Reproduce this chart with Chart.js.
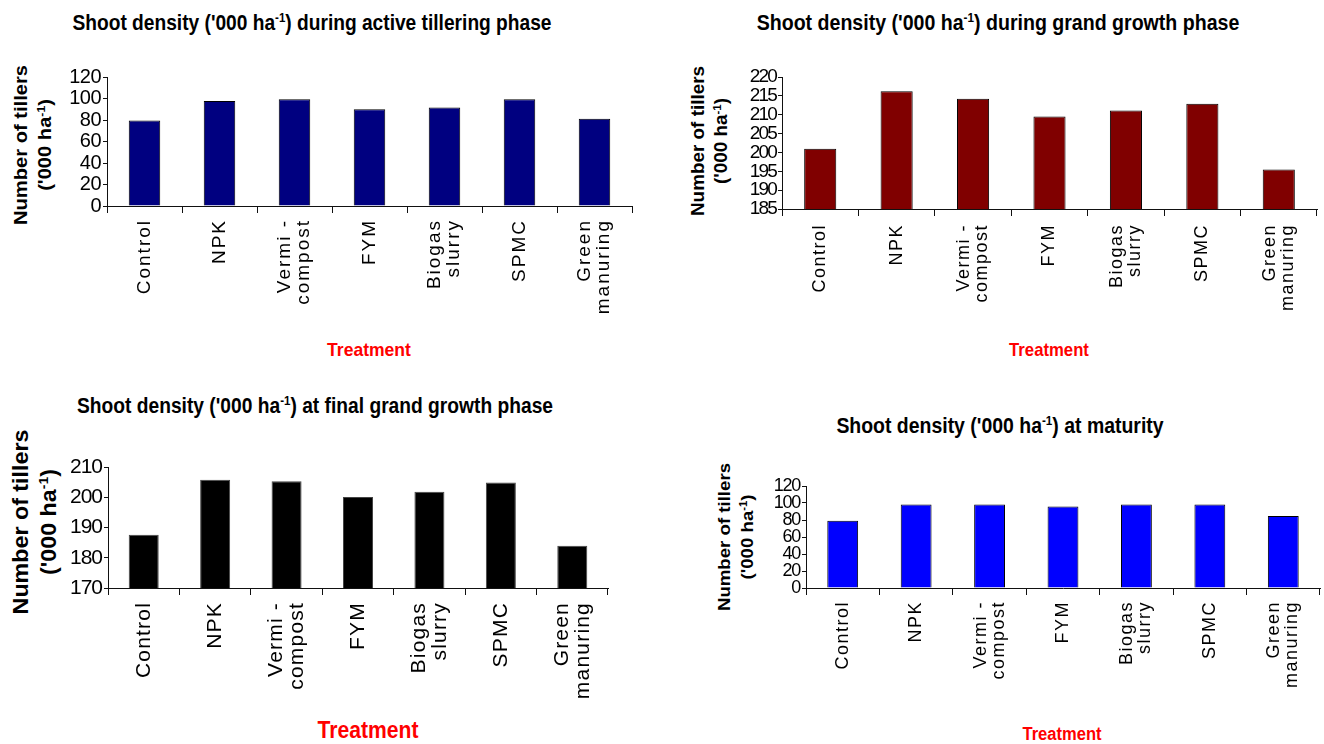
<!DOCTYPE html>
<html>
<head>
<meta charset="utf-8">
<script src="https://cdn.jsdelivr.net/npm/chart.js@4.4.1/dist/chart.umd.min.js"></script>
<style>
  html, body { margin: 0; padding: 0; background: #fff; }
  body { width: 1324px; height: 744px; position: relative; overflow: hidden;
         font-family: 'Liberation Sans', Arial, sans-serif; color: #000; }
  canvas { position: absolute; }
  .t { position: absolute; white-space: nowrap; line-height: 1; font-weight: bold;
       transform: translate(-50%, -50%); }
  .yt { text-align: center; }
  .tr { color: #ff0000; }
  sup { font-size: 0.6em; vertical-align: 0.6em; line-height: 0; }
</style>
</head>
<body>

<!-- chart titles -->
<div class="t fitw" style="left:312px;top:23px;font-size:22px" data-w="479">Shoot density ('000 ha<sup>-1</sup>) during active tillering phase</div>
<div class="t fitw" style="left:998px;top:23px;font-size:22px" data-w="483">Shoot density ('000 ha<sup>-1</sup>) during grand growth phase</div>
<div class="t fitw" style="left:315px;top:406px;font-size:22px" data-w="476">Shoot density ('000 ha<sup>-1</sup>) at final grand growth phase</div>
<div class="t fitw" style="left:1000px;top:426px;font-size:22px" data-w="327">Shoot density ('000 ha<sup>-1</sup>) at maturity</div>

<!-- y-axis titles -->
<div class="t yt fitlen" style="left:33px;top:145px;font-size:18px;line-height:24px" data-len="160"><div>Number of tillers</div><div>('000 ha<sup>-1</sup>)</div></div>
<div class="t yt fitlen" style="left:710px;top:141px;font-size:18px;line-height:23px" data-len="150"><div>Number of tillers</div><div>('000 ha<sup>-1</sup>)</div></div>
<div class="t yt fitlen" style="left:35px;top:522px;font-size:22px;line-height:28px" data-len="185"><div>Number of tillers</div><div>('000 ha<sup>-1</sup>)</div></div>
<div class="t yt fitlen" style="left:736px;top:537px;font-size:17px;line-height:23px" data-len="148"><div>Number of tillers</div><div>('000 ha<sup>-1</sup>)</div></div>

<!-- x-axis titles -->
<div class="t tr fitw" style="left:369px;top:349px;font-size:19px" data-w="84">Treatment</div>
<div class="t tr fitw" style="left:1049px;top:349px;font-size:19px" data-w="80">Treatment</div>
<div class="t tr fitw" style="left:368px;top:730px;font-size:23px" data-w="101">Treatment</div>
<div class="t tr fitw" style="left:1062px;top:734px;font-size:18px" data-w="79">Treatment</div>

<canvas id="tillering"></canvas>
<canvas id="grandGrowth"></canvas>
<canvas id="finalGrowth"></canvas>
<canvas id="maturity"></canvas>

<script>
// Treatments shown on every x axis (multi-line entries wrap the label)
const treatments = ['Control', 'NPK', ['Vermi -', 'compost'], 'FYM', ['Biogas', 'slurry'], 'SPMC', ['Green', 'manuring']];

// Shoot density ('000 ha-1) per treatment at each crop stage
const tilleringValues   = [79.6, 97.6, 99.2, 90.1, 91.7, 99.2, 81.1];
const grandGrowthValues = [201.0, 216.2, 214.2, 209.5, 211.1, 212.9, 195.5];
const finalGrowthValues = [187.6, 205.8, 205.3, 200.1, 201.8, 204.9, 184.0];
const maturityValues    = [79.0, 98.3, 98.3, 96.0, 98.3, 98.3, 84.6];

// Value-axis tick labels for each panel
const tilleringTicks   = [0, 20, 40, 60, 80, 100, 120];
const grandGrowthTicks = [185, 190, 195, 200, 205, 210, 215, 220];
const finalGrowthTicks = [170, 180, 190, 200, 210];
const maturityTicks    = [0, 20, 40, 60, 80, 100, 120];

const FONT = "'Liberation Sans', Arial, sans-serif";
const AXIS = '#111';

// Category axis whose rotated labels are letter-spaced and whose
// two-line labels sit centred on their category
class SpacedCategoryScale extends Chart.CategoryScale {
  _computeLabelItems(area) {
    const items = super._computeLabelItems(area);
    const lh = Chart.helpers.toFont(this.options.ticks.font).lineHeight;
    for (const it of items) {
      if (Array.isArray(it.label) && it.label.length > 1) {
        it.options.translation[0] -= (it.label.length - 1) * lh / 2;
      }
    }
    return items;
  }
  drawLabels(area) {
    const ctx = this.ctx;
    ctx.save();
    ctx.letterSpacing = (this.options.labelSpacing || 0) + 'px';
    super.drawLabels(area);
    ctx.restore();
  }
}
SpacedCategoryScale.id = 'spacedCategory';
SpacedCategoryScale.defaults = Chart.CategoryScale.defaults;
Chart.register(SpacedCategoryScale);

// Linear value axis with tightened digit spacing
class TightLinearScale extends Chart.LinearScale {
  drawLabels(area) {
    const ctx = this.ctx;
    ctx.save();
    ctx.letterSpacing = (this.options.labelSpacing || 0) + 'px';
    super.drawLabels(area);
    ctx.restore();
  }
}
TightLinearScale.id = 'tightLinear';
TightLinearScale.defaults = Chart.LinearScale.defaults;
Chart.register(TightLinearScale);

function makeChart(id, cfg) {
  const [L, T, R, B] = cfg.plot;
  const padTop = 14, padRight = 28;
  const left = L - cfg.axisW, top = T - padTop;
  const W = R + padRight - left, H = B + cfg.axisH - top;
  const cv = document.getElementById(id);
  cv.width = W; cv.height = H;
  cv.style.left = left + 'px'; cv.style.top = top + 'px';
  cv.style.width = W + 'px'; cv.style.height = H + 'px';
  const tickVals = cfg.ticks;
  return new Chart(cv, {
    type: 'bar',
    data: {
      labels: treatments,
      datasets: [{
        data: cfg.values,
        backgroundColor: cfg.color,
        borderColor: cfg.border,
        borderWidth: 1,
        borderSkipped: 'bottom',
        barPercentage: 0.42,
        categoryPercentage: 1
      }]
    },
    options: {
      responsive: false,
      animation: false,
      devicePixelRatio: 1,
      layout: { padding: { top: padTop, right: padRight, left: 0, bottom: 0 } },
      plugins: { legend: { display: false }, tooltip: { enabled: false } },
      scales: {
        x: {
          type: 'spacedCategory',
          labelSpacing: cfg.xSpacing,
          grid: { display: true, drawOnChartArea: false, drawTicks: true, tickLength: 7, offset: true, color: AXIS, lineWidth: 1 },
          border: { display: true, color: AXIS, width: 1 },
          ticks: { minRotation: 90, maxRotation: 90, autoSkip: false, padding: cfg.xPad, color: '#000',
                   font: { family: FONT, size: cfg.xFont, lineHeight: 1.0 } },
          afterFit(s) { s.height = cfg.axisH; }
        },
        y: {
          type: 'tightLinear',
          labelSpacing: cfg.ySpacing,
          min: tickVals[0],
          max: tickVals[tickVals.length - 1],
          afterBuildTicks(s) { s.ticks = tickVals.map(v => ({ value: v })); },
          grid: { display: true, drawOnChartArea: false, drawTicks: true, tickLength: 4, color: AXIS, lineWidth: 1 },
          border: { display: true, color: AXIS, width: 1 },
          ticks: { autoSkip: false, padding: 2, color: '#000', font: { family: FONT, size: cfg.yFont, lineHeight: 1.0 } },
          afterFit(s) { s.width = cfg.axisW; }
        }
      }
    }
  });
}

makeChart('tillering', {
  plot: [107, 77, 632, 206], axisW: 50, axisH: 120,
  values: tilleringValues, ticks: tilleringTicks,
  color: '#000080', border: '#000',
  yFont: 20, ySpacing: -0.5, xFont: 19, xSpacing: 2, xPad: 6
});
makeChart('grandGrowth', {
  plot: [782, 77, 1317, 209], axisW: 50, axisH: 118,
  values: grandGrowthValues, ticks: grandGrowthTicks,
  color: '#800000', border: '#000',
  yFont: 19, ySpacing: -1.8, xFont: 18, xSpacing: 1.5, xPad: 8
});
makeChart('finalGrowth', {
  plot: [108, 467, 608, 588], axisW: 50, axisH: 120,
  values: finalGrowthValues, ticks: finalGrowthTicks,
  color: '#000000', border: '#444',
  yFont: 21, ySpacing: -1, xFont: 21, xSpacing: 1.2, xPad: 7
});
makeChart('maturity', {
  plot: [806, 486, 1320, 588], axisW: 46, axisH: 120,
  values: maturityValues, ticks: maturityTicks,
  color: '#0000ff', border: '#000',
  yFont: 18, ySpacing: -1.3, xFont: 18, xSpacing: 1.5, xPad: 6
});

// Fit title widths and stretch rotated axis titles to their lengths
document.querySelectorAll('.fitw').forEach(el => {
  const s = +el.dataset.w / el.offsetWidth;
  el.style.transform = `translate(-50%, -50%) scaleX(${s})`;
});
document.querySelectorAll('.fitlen').forEach(el => {
  const s = +el.dataset.len / el.firstElementChild.offsetWidth;
  el.style.transform = `translate(-50%, -50%) rotate(-90deg) scaleX(${s})`;
});
</script>
</body>
</html>
